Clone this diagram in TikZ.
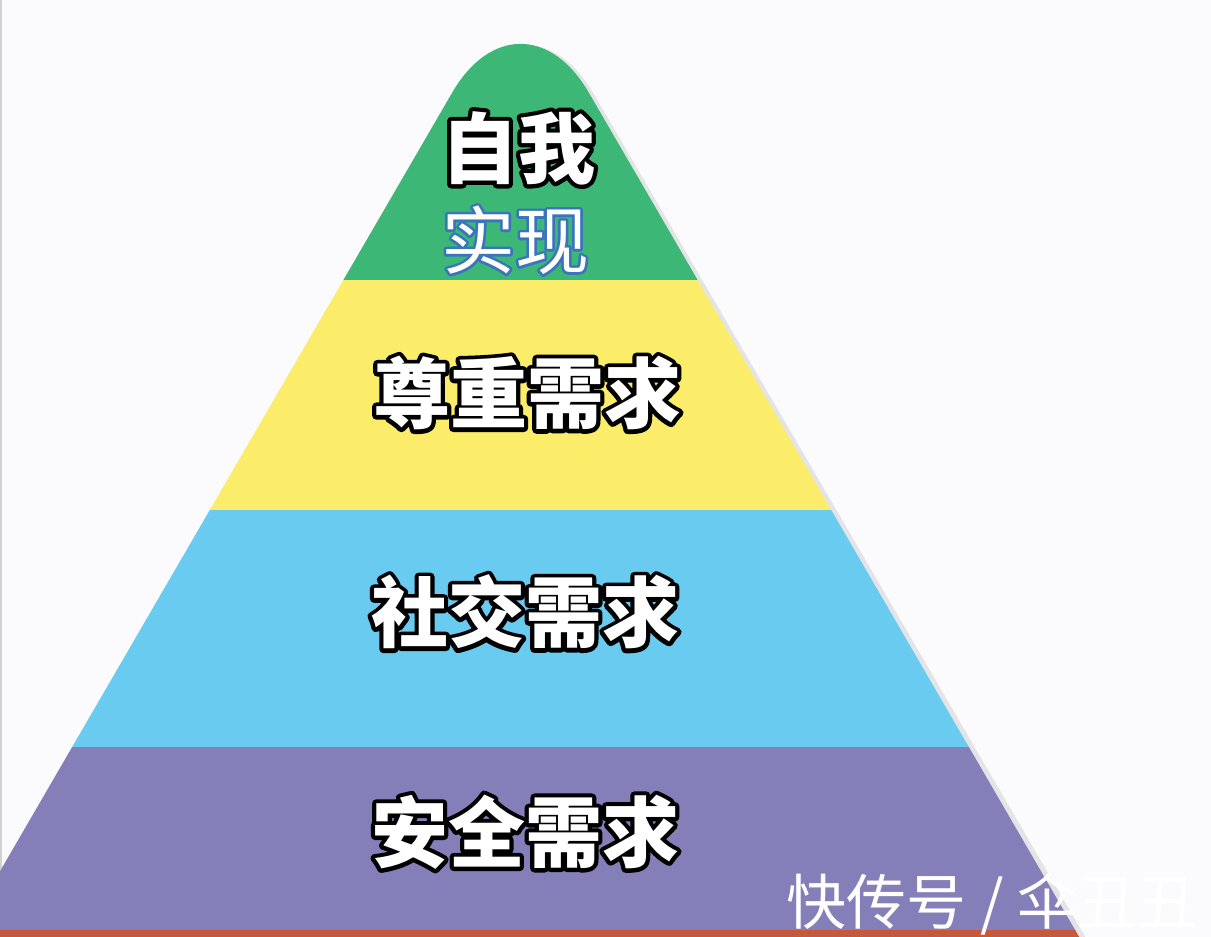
\documentclass[tikz,border=0pt]{standalone}
\usepackage{fontspec}
\newfontfamily\cjk{Noto Sans CJK SC}
\definecolor{bgwhite}{HTML}{FBFAFD}
\definecolor{layergreen}{HTML}{3DB776}
\definecolor{layeryellow}{HTML}{FBEC6A}
\definecolor{layerblue}{HTML}{69CBF0}
\definecolor{layerpurple}{HTML}{847EB9}
\definecolor{baseorange}{HTML}{C9573A}
\definecolor{rimblue}{HTML}{3A74BC}
% white text with a stroked rim drawn underneath
\newcommand\outlined[3]{\leavevmode\rlap{\color{#1}\special{pdf:literal 1 Tr #2 w 1 j}#3\special{pdf:literal 0 Tr}}#3}
\tikzset{
  level/.style={font=\cjk\bfseries\fontsize{38.5}{42}\selectfont, text=white, inner sep=0pt},
  credit/.style={font=\cjk\fontsize{30}{33}\selectfont, text=white, inner sep=0pt},
}
\begin{document}
\begin{tikzpicture}[x=0.5pt,y=-0.5pt]
  % page
  \fill[bgwhite] (0,0) rectangle (1211,937);
  \useasboundingbox (0,0) rectangle (1211,937);
  \draw[black!18, line width=1pt] (0.5,0) -- (0.5,937);
  % soft shadow on the right flank
  \fill[black!30, opacity=0.3, rounded corners=68pt] (-244,1300) -- (525,-24) -- (1297,1300) -- cycle;
  % pyramid bands, clipped by the rounded triangle
  \begin{scope}
    \clip[rounded corners=68pt] (-249,1300) -- (520.5,-25) -- (1290,1300) -- cycle;
    \foreach \ya/\yb/\col in {-30/281/layergreen, 280/511/layeryellow, 510/748/layerblue, 747/931/layerpurple, 930/950/baseorange}
      \fill[\col] (-40,\ya) rectangle (1300,\yb);
  \end{scope}
  % labels
  \node[level] (self) at (518,148) {\outlined{black}{4.2}{自我}};
  \node[level, font=\cjk\fontsize{37}{40}\selectfont] (real) at (515,240) {\outlined{rimblue}{2.6}{实现}};
  \node[level] (esteem) at (527,393) {\outlined{black}{4.2}{尊重需求}};
  \node[level] (social) at (525,612) {\outlined{black}{4.2}{社交需求}};
  \node[level] (safety) at (525,832) {\outlined{black}{4.2}{安全需求}};
  % watermark
  \node[credit] (mark) at (992,904) {快传号 / 伞丑丑};
\end{tikzpicture}
\end{document}
